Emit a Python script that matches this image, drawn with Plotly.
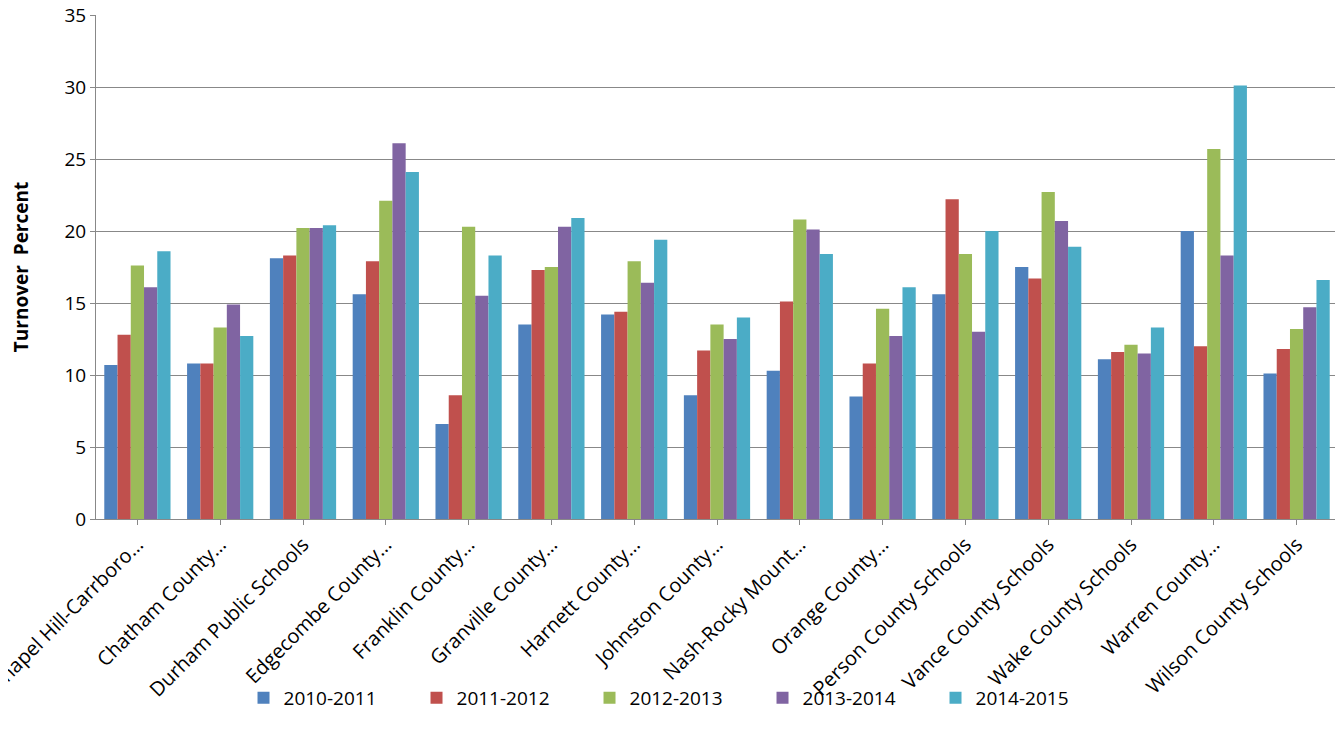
import plotly.graph_objects as go

districts = ["Chapel Hill-Carrboro…", "Chatham County…", "Durham Public Schools",
             "Edgecombe County…", "Franklin County…", "Granville County…",
             "Harnett County…", "Johnston County…", "Nash-Rocky Mount…",
             "Orange County…", "Person County Schools", "Vance County Schools",
             "Wake County Schools", "Warren County…", "Wilson County Schools"]

y2010 = [10.7, 10.8, 18.1, 15.6, 6.6, 13.5, 14.2, 8.6, 10.3, 8.5, 15.6, 17.5, 11.1, 20.0, 10.1]
y2011 = [12.8, 10.8, 18.3, 17.9, 8.6, 17.3, 14.4, 11.7, 15.1, 10.8, 22.2, 16.7, 11.6, 12.0, 11.8]
y2012 = [17.6, 13.3, 20.2, 22.1, 20.3, 17.5, 17.9, 13.5, 20.8, 14.6, 18.4, 22.7, 12.1, 25.7, 13.2]
y2013 = [16.1, 14.9, 20.2, 26.1, 15.5, 20.3, 16.4, 12.5, 20.1, 12.7, 13.0, 20.7, 11.5, 18.3, 14.7]
y2014 = [18.6, 12.7, 20.4, 24.1, 18.3, 20.9, 19.4, 14.0, 18.4, 16.1, 20.0, 18.9, 13.3, 30.1, 16.6]

series = [("2010-2011", y2010, "#4F81BD"), ("2011-2012", y2011, "#C0504D"),
          ("2012-2013", y2012, "#9BBB59"), ("2013-2014", y2013, "#8064A2"),
          ("2014-2015", y2014, "#4BACC6")]

fig = go.Figure()
for name, vals, col in series:
    fig.add_trace(go.Bar(x=districts, y=vals, name=name, marker_color=col,
                         marker_line_width=0))

fig.update_layout(
    width=1343, height=734, barmode="group", bargap=0.2, bargroupgap=0,
    plot_bgcolor="white", paper_bgcolor="white",
    font=dict(family="Open Sans, Liberation Sans, sans-serif", size=19, color="black"),
    margin=dict(l=88, r=13, t=7, b=223),
    legend=dict(orientation="h", x=0.467, xanchor="center", y=-0.355, yanchor="middle",
                font=dict(size=19), entrywidth=128, entrywidthmode="pixels",
                bgcolor="rgba(0,0,0,0)"),
    xaxis=dict(tickangle=-45, showline=True, linecolor="#888", ticks="outside",
               tickcolor="#888", ticklen=5, tickfont=dict(size=20), automargin=False),
    yaxis=dict(range=[0, 35], dtick=5, showgrid=True, gridcolor="#888",
               showline=True, linecolor="#888", ticks="outside", tickcolor="#888",
               title=dict(text="<b>Turnover  Percent</b>", font=dict(size=19), standoff=30),
               tickfont=dict(size=19), automargin=False, ticklabeloverflow="allow"),
)

fig.write_html("out.html")
